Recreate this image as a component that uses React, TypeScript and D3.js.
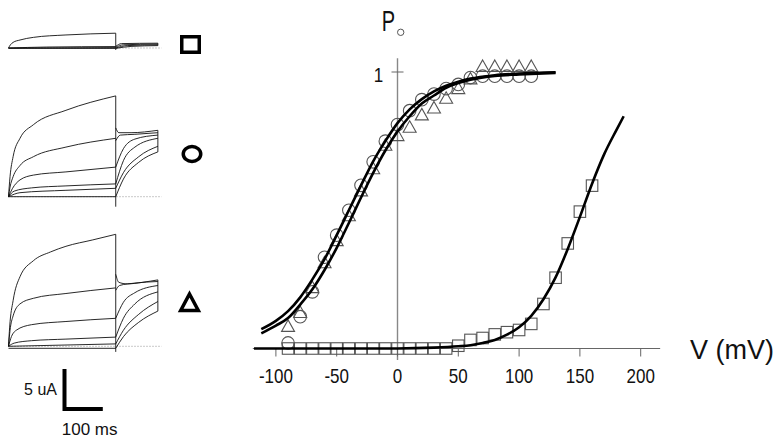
import React, { useEffect, useRef } from 'react';
import * as d3 from 'd3';

// open probability vs voltage (mV)
const vSteps = [-90, -80, -70, -60, -50, -40, -30, -20, -10, 0, 10, 20, 30, 40, 50, 60, 70, 80, 90, 100, 110];
const poCircle = [0.02, 0.115, 0.205, 0.33, 0.41, 0.5, 0.59, 0.675, 0.75, 0.81, 0.86, 0.9, 0.92, 0.94, 0.955, 0.98, 0.985, 0.985, 0.985, 0.985, 0.985];
const poTriangle = [0.08, 0.13, 0.22, 0.31, 0.39, 0.48, 0.57, 0.65, 0.735, 0.77, 0.8, 0.845, 0.87, 0.905, 0.94, 0.975, 1.02, 1.02, 1.02, 1.02, 1.02];
const vSquare = [-90, -80, -70, -60, -50, -40, -30, -20, -10, 0, 10, 20, 30, 40, 50, 60, 70, 80, 90, 100, 110, 120, 130, 140, 150, 160];
const poSquare = [0, 0, 0, 0, 0, 0, 0, 0, 0, 0, 0, 0, 0, 0, 0.01, 0.031, 0.038, 0.051, 0.059, 0.067, 0.089, 0.161, 0.256, 0.38, 0.495, 0.589];

// fitted curves [mV, Po]
const fitCircle: [number, number][] = [
  [-112, 0.07], [-100, 0.1], [-90, 0.135], [-80, 0.185], [-70, 0.25], [-60, 0.323], [-50, 0.41],
  [-40, 0.5], [-30, 0.59], [-20, 0.677], [-10, 0.75], [0, 0.815], [10, 0.865], [20, 0.902],
  [30, 0.93], [40, 0.95], [50, 0.965], [60, 0.976], [80, 0.988], [100, 0.994], [130, 0.999],
];
const fitTriangle: [number, number][] = [
  [-112, 0.055], [-100, 0.083], [-90, 0.11], [-80, 0.159], [-70, 0.214], [-60, 0.284], [-50, 0.364],
  [-40, 0.454], [-30, 0.546], [-20, 0.635], [-10, 0.716], [0, 0.785], [10, 0.84], [20, 0.886],
  [30, 0.915], [40, 0.943], [50, 0.96], [60, 0.972], [80, 0.986], [100, 0.991], [130, 0.997],
];
const fitSquare: [number, number][] = [
  [-118, 0], [0, 0], [30, 0.003], [50, 0.008], [60, 0.012], [70, 0.02], [80, 0.031], [90, 0.05],
  [100, 0.077], [110, 0.118], [120, 0.178], [130, 0.257], [140, 0.36], [150, 0.476], [160, 0.596],
  [170, 0.703], [180, 0.79], [186, 0.84],
];

const xTicks = [-100, -50, 0, 50, 100, 150, 200];
const yTicks = [1];

// current traces [ms, uA]: pulse then tail
type Trace = { pulse: [number, number][]; tail: [number, number][] };

const tracesSquare: Trace[] = [
  { pulse: [[0, 0], [5, 0.4], [12, 0.7], [30, 1.0], [65, 1.33], [150, 1.63], [280, 1.85]], tail: [[280, 0.2], [295, 0.55], [390, 0.6]] },
  { pulse: [[0, 0], [100, 0.12], [280, 0.18]], tail: [[280, 0.1], [300, 0.4], [390, 0.5]] },
  { pulse: [[0, 0], [280, 0.05]], tail: [[280, 0], [310, 0.3], [390, 0.4]] },
  { pulse: [[0, -0.05], [280, -0.05]], tail: [[280, -0.05], [320, 0.2], [390, 0.3]] },
];
const tracesCircle: Trace[] = [
  { pulse: [[0, 0], [4, 2.5], [12, 5.0], [30, 7.3], [65, 9.0], [150, 10.8], [280, 12.6]], tail: [[280, 8.6], [288, 8.0], [320, 8.0], [390, 8.3]] },
  { pulse: [[0, 0], [4, 1.2], [12, 2.5], [30, 3.9], [65, 5.0], [150, 6.2], [280, 7.3]], tail: [[280, 7.0], [292, 7.7], [330, 7.8], [390, 8.0]] },
  { pulse: [[0, 0], [10, 1.0], [30, 2.1], [65, 2.7], [150, 3.1], [280, 3.7]], tail: [[280, 3.7], [300, 6.0], [330, 7.2], [390, 7.7]] },
  { pulse: [[0, 0], [15, 0.7], [60, 1.1], [150, 1.35], [280, 1.6]], tail: [[280, 1.6], [300, 4.5], [330, 6.2], [390, 7.3]] },
  { pulse: [[0, 0], [30, 0.5], [150, 0.8], [280, 1.05]], tail: [[280, 1.05], [300, 3.0], [340, 5.0], [390, 6.3]] },
  { pulse: [[0, 0], [280, 0]], tail: [[280, 0], [300, 2.2], [340, 4.3], [390, 5.6]] },
];
const tracesTriangle: Trace[] = [
  { pulse: [[0, 0], [3, 2.4], [12, 5.7], [30, 8.7], [65, 10.7], [110, 11.8], [150, 12.5], [220, 13.3], [280, 14.0]], tail: [[280, 9.0], [288, 8.0], [310, 7.8], [350, 8.0], [390, 8.3]] },
  { pulse: [[0, 0], [4, 2.0], [12, 3.8], [30, 5.3], [65, 6.0], [150, 6.6], [280, 7.3]], tail: [[280, 7.0], [290, 7.6], [330, 7.9], [390, 8.1]] },
  { pulse: [[0, 0], [6, 1.0], [20, 2.0], [60, 2.7], [150, 3.1], [280, 3.5]], tail: [[280, 3.5], [300, 5.5], [330, 6.7], [390, 7.6]] },
  { pulse: [[0, 0], [15, 0.4], [60, 0.7], [150, 0.9], [280, 1.15]], tail: [[280, 1.15], [300, 3.5], [330, 5.3], [390, 6.8]] },
  { pulse: [[0, 0], [280, 0.3]], tail: [[280, 0.3], [300, 2.0], [340, 4.0], [390, 5.6]] },
  { pulse: [[0, -0.25], [280, -0.25]], tail: [[280, -0.25], [300, 1.2], [340, 3.0], [390, 4.4]] },
];
// how far the step transient dips below baseline (uA)
const stepDip = [-0.25, -1.25, -0.7];

const FONT = '"Liberation Sans", Arial, sans-serif';

const App = () => {
  const ref = useRef<SVGSVGElement>(null);

  useEffect(() => {
    const svg = d3.select(ref.current);
    svg.selectAll('*').remove();
    svg.attr('font-family', FONT);

    // ---- left: current traces ----
    const tx = d3.scaleLinear().domain([0, 100]).range([8.5, 46.8]);
    const groups = [
      { traces: tracesSquare, base: 48, symbol: 'square', sy: 44.5 },
      { traces: tracesCircle, base: 196.7, symbol: 'circle', sy: 154 },
      { traces: tracesTriangle, base: 346.3, symbol: 'triangle', sy: 302.5 },
    ];
    const traceLine = (iy: d3.ScaleLinear<number, number>) =>
      d3.line<[number, number]>().x((d) => tx(d[0])).y((d) => iy(d[1])).curve(d3.curveMonotoneX);

    groups.forEach((g, gi) => {
      const iy = d3.scaleLinear().domain([0, 5]).range([g.base, g.base - 40]);
      const gg = svg.append('g');
      gg.append('line')
        .attr('x1', tx(0)).attr('x2', tx(400))
        .attr('y1', iy(0)).attr('y2', iy(0))
        .attr('stroke', '#777').attr('stroke-width', 0.8).attr('stroke-dasharray', '1,2');
      const line = traceLine(iy);
      g.traces.forEach((t) => {
        gg.append('path').attr('d', line(t.pulse)).attr('fill', 'none').attr('stroke', '#111').attr('stroke-width', 0.9);
        gg.append('path').attr('d', line(t.tail)).attr('fill', 'none').attr('stroke', '#111').attr('stroke-width', 0.9);
      });
      const pulseMax = d3.max(g.traces, (t) => t.pulse[t.pulse.length - 1][1]) as number;
      gg.append('line')
        .attr('x1', tx(280)).attr('x2', tx(280))
        .attr('y1', iy(pulseMax)).attr('y2', iy(stepDip[gi]))
        .attr('stroke', '#111').attr('stroke-width', 0.9);
      const ends = g.traces.map((t) => t.tail[t.tail.length - 1][1]);
      gg.append('line')
        .attr('x1', tx(390)).attr('x2', tx(390))
        .attr('y1', iy(d3.max(ends) as number)).attr('y2', iy(d3.min(ends) as number))
        .attr('stroke', '#111').attr('stroke-width', 0.9);

      const sx = 190.5;
      const sym = svg.append('g').attr('fill', 'none').attr('stroke', '#000').attr('stroke-width', 3.5);
      if (g.symbol === 'square') {
        sym.append('rect').attr('x', sx - 8.75).attr('y', g.sy - 7.75).attr('width', 17.5).attr('height', 15.5);
      } else if (g.symbol === 'circle') {
        sym.append('ellipse').attr('cx', sx + 1.5).attr('cy', g.sy).attr('rx', 8.75).attr('ry', 7.4);
      } else {
        sym.append('path')
          .attr('d', `M${sx - 1},${g.sy - 8.5} L${sx + 7.8},${g.sy + 8} L${sx - 9.8},${g.sy + 8} Z`)
          .attr('stroke-linejoin', 'miter');
      }
    });

    // scale bar
    const barX = 64.5;
    const barY = 409;
    const barH = 40; // 5 uA
    const barW = tx(100) - tx(0);
    svg.append('path')
      .attr('d', `M${barX},${barY - barH} L${barX},${barY} L${barX + barW},${barY}`)
      .attr('fill', 'none').attr('stroke', '#000').attr('stroke-width', 4);
    svg.append('text').attr('x', 57).attr('y', 395).attr('text-anchor', 'end')
      .attr('font-size', 16).attr('fill', '#111').text('5 uA');
    svg.append('text').attr('x', barX + barW / 2 + 6).attr('y', 435).attr('text-anchor', 'middle')
      .attr('font-size', 17).attr('fill', '#111').text('100 ms');

    // ---- right: Po-V plot ----
    const x = d3.scaleLinear().domain([-100, 200]).range([275.9, 640.7]);
    const y = d3.scaleLinear().domain([0, 1]).range([348.5, 72]);

    const axis = svg.append('g');
    axis.append('line')
      .attr('x1', x(-119)).attr('x2', x(216)).attr('y1', y(0)).attr('y2', y(0))
      .attr('stroke', '#666').attr('stroke-width', 1.2);
    axis.append('line')
      .attr('x1', x(0)).attr('x2', x(0)).attr('y1', y(1.05)).attr('y2', y(-0.042))
      .attr('stroke', '#888').attr('stroke-width', 1.4);
    xTicks.forEach((v) => {
      axis.append('line')
        .attr('x1', x(v)).attr('x2', x(v)).attr('y1', y(0)).attr('y2', y(0) + 8)
        .attr('stroke', '#666').attr('stroke-width', 1);
      axis.append('text')
        .attr('transform', `translate(${x(v)},383) scale(0.85,1)`)
        .attr('text-anchor', 'middle').attr('font-size', 20).attr('fill', '#111')
        .text(String(v));
    });
    yTicks.forEach((p) => {
      axis.append('line')
        .attr('x1', x(0) - 6).attr('x2', x(0) + 6).attr('y1', y(p)).attr('y2', y(p))
        .attr('stroke', '#666').attr('stroke-width', 1);
      axis.append('text')
        .attr('transform', `translate(${x(0) - 19},${y(p) + 10}) scale(0.85,1)`)
        .attr('text-anchor', 'middle').attr('font-size', 20).attr('fill', '#111')
        .text(String(p));
    });

    // axis titles
    svg.append('text')
      .attr('transform', 'translate(388.5,30.7) scale(0.69,1)')
      .attr('text-anchor', 'middle').attr('font-size', 29).attr('fill', '#111').text('P');
    svg.append('circle').attr('cx', 400.7).attr('cy', 32.3).attr('r', 3.2)
      .attr('fill', 'none').attr('stroke', '#555').attr('stroke-width', 1);
    svg.append('text').attr('x', 690).attr('y', 359).attr('font-size', 27).attr('fill', '#111').text('V (mV)');

    // markers
    const mk = svg.append('g').attr('fill', 'none').attr('stroke', '#555').attr('stroke-width', 1.1);
    vSquare.forEach((v, i) => {
      mk.append('rect').attr('x', x(v) - 5.75).attr('y', y(poSquare[i]) - 5.75).attr('width', 11.5).attr('height', 11.5);
    });
    vSteps.forEach((v, i) => {
      mk.append('circle').attr('cx', x(v)).attr('cy', y(poCircle[i])).attr('r', 6.3);
    });
    vSteps.forEach((v, i) => {
      const cx = x(v);
      const cy = y(poTriangle[i]);
      mk.append('path').attr('d', `M${cx},${cy - 6.5} L${cx + 6.5},${cy + 5} L${cx - 6.5},${cy + 5} Z`);
    });

    // fitted curves
    const fit = d3.line<[number, number]>().x((d) => x(d[0])).y((d) => y(d[1])).curve(d3.curveMonotoneX);
    [fitCircle, fitTriangle, fitSquare].forEach((f) => {
      svg.append('path').attr('d', fit(f)).attr('fill', 'none').attr('stroke', '#000').attr('stroke-width', 2.6);
    });
  }, []);

  return (
    <svg
      ref={ref}
      width={782}
      height={440}
      style={{ position: 'absolute', left: 0, top: 0, background: '#fff' }}
    />
  );
};

export default App;
